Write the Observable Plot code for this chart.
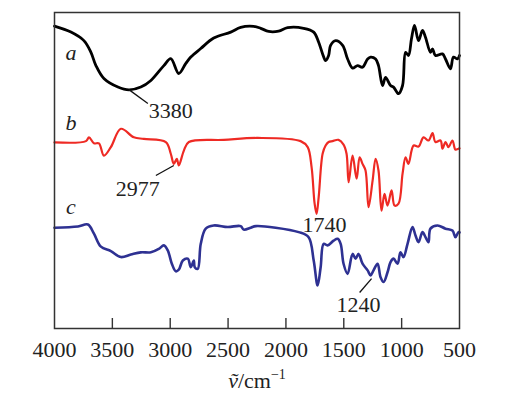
<!DOCTYPE html>
<html>
<head>
<meta charset="utf-8">
<script src="https://cdn.jsdelivr.net/npm/d3@7"></script>
<script src="https://cdn.jsdelivr.net/npm/@observablehq/plot@0.6"></script>
<style>
  html, body { margin: 0; padding: 0; background: #fff; }
  #chart { width: 526px; height: 399px; }
</style>
</head>
<body>
<div id="chart"></div>
<script>
// Wavenumber (cm^-1) and relative transmittance (offset, arbitrary %)
const wnA = [4000,3858,3746,3685,3642,3573,3452,3357,3254,3167,3055,2995,2926,2865,2822,2736,2624,2477,2391,2278,2218,2149,2063,1985,1847,1760,1717,1683,1657,1631,1614,1570,1510,1467,1424,1381,1338,1294,1268,1225,1200,1165,1139,1096,1070,1027,992,966,941,915,889,854,820,794,751,733,708,647,621,578,552,518,500];
const tA  = [95.7,93.8,91.1,87.4,83.2,79.1,76.4,75.5,76.4,78.5,83.2,85.4,80.7,83.9,85.9,88.6,91.9,93.8,95.3,95.6,95.0,94.0,94.1,95.2,95.0,93.8,90.6,86.9,84.8,86.4,89.6,91.1,89.6,85.3,82.4,83.2,82.7,85.3,85.9,85.3,83.2,76.9,79.5,76.9,76.4,74.3,76.9,87.4,86.4,91.7,95.9,91.1,94.3,92.2,87.4,88.5,86.4,86.9,85.3,82.2,85.9,85.3,86.4];

const wnB = [4000,3728,3702,3659,3616,3573,3513,3426,3314,3228,3038,2995,2969,2943,2926,2882,2839,2537,2244,1873,1812,1778,1752,1735,1717,1683,1657,1631,1597,1545,1502,1476,1458,1424,1389,1363,1338,1312,1286,1251,1225,1200,1174,1148,1122,1087,1061,1027,992,966,941,897,854,811,768,733,708,664,647,621,595,561,535,509,500];
const tB  = [58.9,59.3,60.5,58.6,58.6,54.7,57.4,63.2,60.5,60.0,59.0,55.3,52.1,53.7,51.6,56.3,59.0,59.7,60.3,59.3,57.4,51.0,39.5,36.3,41.6,55.3,57.9,59.0,59.3,59.7,58.2,55.3,46.3,54.7,47.4,54.2,52.1,50.0,38.4,46.8,53.7,50.0,37.3,42.6,38.9,43.7,38.9,39.5,49.0,54.2,52.1,57.9,57.6,60.5,59.5,61.8,59.0,59.5,56.9,59.0,57.4,59.5,56.6,56.9,57.0];

const wnC = [4000,3797,3711,3659,3599,3513,3426,3340,3254,3167,3098,3055,3021,2986,2952,2926,2891,2848,2822,2796,2788,2762,2736,2693,2624,2503,2391,2365,2304,2261,2089,1890,1804,1760,1726,1700,1674,1640,1588,1553,1527,1502,1467,1424,1398,1372,1338,1294,1268,1243,1208,1182,1156,1122,1096,1070,1035,1010,984,949,906,880,854,820,794,768,751,690,621,561,535,509,500];
const tC  = [31.9,32.3,32.9,30.0,25.9,24.5,22.6,23.4,24.1,24.1,25.2,26.3,24.7,20.5,18.1,18.6,21.5,22.1,19.4,21.5,19.4,18.9,26.8,31.6,32.6,32.1,32.4,31.3,31.9,32.4,31.9,30.5,28.9,21.5,13.6,19.4,26.8,26.3,27.8,28.4,26.8,20.5,17.3,23.6,22.1,23.6,20.5,18.4,16.8,18.4,20.5,16.2,14.7,17.8,21.0,22.1,20.5,24.1,22.6,26.8,32.1,29.4,27.3,30.5,28.9,27.3,31.6,32.6,31.6,31.0,28.9,30.5,30.4];

// Curve letters
const curveNames = ["a", "b", "c"];
const curveColors = ["#000000", "#ee2a24", "#2e3192"];
const curveWidths = [2.8, 2.2, 2.6];
const letterWn = [3858, 3858, 3858];
const letterT  = [87.3, 65.2, 38.6];

// Peak annotations
const annText   = ["3380", "2977", "1740", "1240"];
const annTextWn = [2995, 3280, 1666, 1372];
const annTextT  = [69.0, 44.3, 32.9, 7.3];
const annLine   = [true, true, false, true];
const annFromWn = [3357, 2969, 1740, 1260];
const annFromT  = [75.6, 51.6, 36.3, 15.8];
const annToWn   = [3193, 3124, 1740, 1363];
const annToT    = [71.2, 48.4, 36.3, 11.4];

// Axis ticks
const xTickLabels = [4000, 3500, 3000, 2500, 2000, 1500, 1000, 500];
const xInnerTicks = [3500, 3000, 2500, 2000, 1500, 1000];

const series = [wnA, wnB, wnC].map((wn, i) => wn.map((w, j) => ({wn: w, t: [tA, tB, tC][i][j], s: curveNames[i]})));
const letters = curveNames.map((n, i) => ({n, wn: letterWn[i], t: letterT[i]}));
const ann = annText.map((txt, i) => ({txt, x: annTextWn[i], y: annTextT[i], line: annLine[i], x1: annFromWn[i], y1: annFromT[i], x2: annToWn[i], y2: annToT[i]}));

const serif = "'Liberation Serif', 'Times New Roman', serif";

const chart = Plot.plot({
  width: 526,
  height: 399,
  marginLeft: 54,
  marginRight: 67,
  marginTop: 12,
  marginBottom: 71,
  style: {fontFamily: serif, background: "#fff", color: "#222"},
  x: {domain: [4000, 500], label: null},
  y: {domain: [0, 100], axis: null},
  marks: [
    ...series.map((d, i) => Plot.line(d, {x: "wn", y: "t", stroke: curveColors[i], strokeWidth: curveWidths[i], strokeLinejoin: "round", curve: "catmull-rom"})),
    Plot.frame({stroke: "#333", strokeWidth: 1.5}),
    Plot.axisX(xInnerTicks, {tickSize: -10, tickFormat: () => "", stroke: "#333", strokeWidth: 1.4, label: null}),
    Plot.axisX(xTickLabels, {tickSize: 0, tickPadding: 13, fontSize: 22, fill: "#222", label: null, tickFormat: d => String(d)}),
    Plot.text(letters, {x: "wn", y: "t", text: "n", fontSize: 22, fontStyle: "italic", fill: "#222", textAnchor: "middle", lineAnchor: "middle"}),
    Plot.link(ann.filter(d => d.line), {x1: "x1", y1: "y1", x2: "x2", y2: "y2", stroke: "#111", strokeWidth: 1.3}),
    Plot.text(ann, {x: "x", y: "y", text: "txt", fontSize: 22, fill: "#222", textAnchor: "middle", lineAnchor: "middle"})
  ]
});

// axis title below the plot: ṽ/cm^-1
const svg = d3.select(chart);
const title = svg.append("text")
  .attr("x", 257).attr("y", 388)
  .attr("text-anchor", "middle")
  .attr("font-family", serif)
  .attr("font-size", 22)
  .attr("fill", "#222");
title.append("tspan").attr("font-style", "italic").text("\u1E7D");
title.append("tspan").text("/cm");
title.append("tspan").attr("font-size", 14).attr("dy", -9).text("\u22121");

document.getElementById("chart").appendChild(chart);
</script>
</body>
</html>
